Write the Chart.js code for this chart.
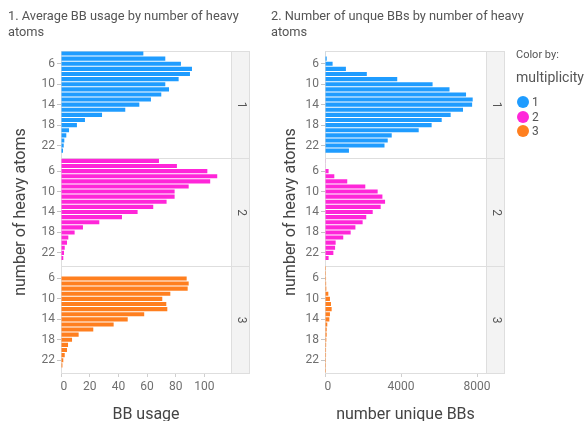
<!DOCTYPE html>
<html>
<head>
<meta charset="utf-8">
<script src="https://cdn.jsdelivr.net/npm/chart.js@4.4.0/dist/chart.umd.min.js"></script>
<style>
  html, body { margin: 0; padding: 0; background: #fff; width: 588px; height: 421px; overflow: hidden; }
  body { font-family: Roboto, "Liberation Sans", sans-serif; }
  #wrap { position: relative; width: 588px; height: 421px; }
  canvas { position: absolute; top: 0; }
  #usageChart { left: 0; }
  #uniqueChart { left: 262px; }
  .title { position: absolute; font-size: 12.8px; line-height: 15.5px; color: #555; white-space: nowrap; }
  .legend-head { position: absolute; left: 516px; color: #555; white-space: nowrap; }
  .legend-item { position: absolute; left: 517px; height: 14px; line-height: 14px; font-size: 12px; color: #555; }
  .legend-item span.dot { position: absolute; left: 0; top: 1px; width: 12px; height: 12px; border-radius: 50%; }
  .legend-item span.lab { position: absolute; left: 15px; top: 0; }
</style>
</head>
<body>
<div id="wrap">
  <canvas id="usageChart" width="262" height="421"></canvas>
  <canvas id="uniqueChart" width="326" height="421"></canvas>
  <div class="title" style="left:8px; top:8px;">1. Average BB usage by number of heavy<br>atoms</div>
  <div class="title" style="left:271px; top:8px;">2. Number of unque BBs by number of heavy<br>atoms</div>
  <div class="legend-head" style="top:48px; font-size:11px; line-height:14px;">Color by:</div>
  <div class="legend-head" style="top:68px; font-size:14px; line-height:18px;">multiplicity</div>
  <div id="legend"></div>
</div>
<script>
// number of heavy atoms (one bar per value, per multiplicity row)
const atoms = [4, 5, 6, 7, 8, 9, 10, 11, 12, 13, 14, 15, 16, 17, 18, 19, 20, 21, 22, 23, 24];
const atomTickLabels = [6, 10, 14, 18, 22];
const multiplicity = ['1', '2', '3'];
const palette = ['#1f9cff', '#ff26d9', '#ff7f1f'];

// 1. average building-block usage
const usageMult1 = [57.4, 72.7, 83.6, 91.3, 89.9, 82.0, 72.7, 75.3, 69.9, 62.7, 54.6, 44.8, 28.6, 16.7, 11.1, 5.6, 3.7, 2.3, 1.9, 1.4, 0];
const usageMult2 = [68.3, 80.8, 102.0, 108.9, 104.0, 89.0, 79.2, 79.2, 73.6, 64.3, 53.4, 42.5, 26.7, 15.3, 9.5, 5.1, 4.2, 2.6, 2.1, 1.6, 0];
const usageMult3 = [0, 0, 87.6, 89.0, 88.3, 76.2, 70.6, 73.4, 74.1, 58.0, 46.5, 36.7, 22.5, 12.3, 7.7, 4.9, 4.2, 2.6, 1.6, 1.0, 0];

// 2. number of unique building blocks
const uniqueMult1 = [30, 90, 400, 1100, 2200, 3800, 5660, 6550, 7420, 7770, 7740, 7260, 6610, 6140, 5610, 4930, 3510, 3300, 3130, 1260, 0];
const uniqueMult2 = [20, 30, 190, 490, 1170, 2120, 2770, 3020, 3160, 2930, 2510, 2170, 1980, 1600, 1350, 960, 560, 530, 440, 190, 0];
const uniqueMult3 = [50, 50, 55, 60, 70, 175, 260, 315, 350, 260, 230, 120, 90, 88, 70, 60, 55, 55, 50, 50, 50];

const usageTicks = [0, 20, 40, 60, 80, 100];
const uniqueTicks = [0, 4000, 8000];

const FONT = 'Roboto, "Liberation Sans", sans-serif';
const rowIds = ['y1', 'y2', 'y3'];

// frames around each facet cell, the grey row strips and the y title
const facetDecor = {
  id: 'facetDecor',
  beforeDatasetsDraw(chart, args, o) {
    const ctx = chart.ctx;
    const area = chart.chartArea;
    const L = Math.round(area.left) + 0.5;
    const R = Math.round(area.right) + 0.5;
    ctx.save();
    ctx.lineWidth = 1;
    rowIds.forEach((id, i) => {
      const s = chart.scales[id];
      const T = Math.round(s.top) + 0.5;
      const B = Math.round(s.bottom) + 0.5;
      ctx.fillStyle = '#f3f3f3';
      ctx.fillRect(R, T, o.stripWidth, B - T);
      ctx.strokeStyle = '#dedede';
      ctx.strokeRect(L, T, R - L, B - T);
      ctx.strokeRect(R, T, o.stripWidth, B - T);
      ctx.save();
      ctx.translate(R + o.stripWidth / 2, (T + B) / 2);
      ctx.rotate(Math.PI / 2);
      ctx.fillStyle = '#555';
      ctx.font = '12px ' + FONT;
      ctx.textAlign = 'center';
      ctx.textBaseline = 'middle';
      ctx.fillText(multiplicity[i], 0, 0);
      ctx.restore();
    });
    ctx.save();
    ctx.translate(o.yTitleX, (area.top + area.bottom) / 2);
    ctx.rotate(-Math.PI / 2);
    ctx.fillStyle = '#444';
    ctx.font = '16px ' + FONT;
    ctx.textAlign = 'center';
    ctx.textBaseline = 'middle';
    ctx.fillText(o.yTitle, 0, 0);
    ctx.restore();
    ctx.restore();
  }
};

function makePanel(cfg) {
  const scales = {};
  rowIds.forEach((id, i) => {
    scales[id] = {
      type: 'category',
      labels: atoms.map(String),
      position: 'left',
      stack: 'rows',
      stackWeight: 1,
      weight: 3 - i,
      offset: true,
      afterFit: s => { s.width = cfg.axisWidth; },
      border: { display: false },
      grid: {
        drawOnChartArea: false,
        drawTicks: true,
        offset: false,
        tickLength: 4,
        tickColor: c => atomTickLabels.includes(atoms[c.index]) ? '#c4c4c4' : 'rgba(0,0,0,0)'
      },
      ticks: {
        autoSkip: false,
        padding: 2,
        color: '#6f6f6f',
        font: { family: FONT, size: 12 },
        callback: (v, idx) => atomTickLabels.includes(atoms[idx]) ? String(atoms[idx]) : ''
      }
    };
  });
  scales.x = {
    type: 'linear',
    position: 'bottom',
    min: 0,
    max: cfg.xMax,
    afterBuildTicks: s => { s.ticks = cfg.xTicks.map(v => ({ value: v })); },
    afterFit: s => { s.height = 48; },
    border: { display: false },
    grid: { drawOnChartArea: false, drawTicks: true, tickLength: 4, tickColor: '#cfcfcf' },
    ticks: {
      autoSkip: false,
      maxRotation: 0,
      padding: 3,
      color: '#6f6f6f',
      font: { family: FONT, size: 12 },
      // first label sits flush with the start of the axis
      callback: (v, i) => i === 0 ? '  ' + String(v) : String(v)
    },
    title: {
      display: true,
      text: cfg.xTitle,
      color: '#444',
      font: { family: FONT, size: 16, lineHeight: 1 },
      padding: { top: 0, bottom: -2 }
    }
  };

  return new Chart(document.getElementById(cfg.canvas), {
    type: 'bar',
    data: {
      labels: atoms.map(String),
      datasets: cfg.series.map((vals, i) => ({
        label: multiplicity[i],
        data: vals,
        yAxisID: rowIds[i],
        xAxisID: 'x',
        backgroundColor: palette[i],
        borderWidth: 0,
        grouped: false,
        barPercentage: 0.8,
        categoryPercentage: 1
      }))
    },
    options: {
      indexAxis: 'y',
      responsive: false,
      animation: false,
      layout: { padding: { left: 0, top: 51, right: cfg.padRight, bottom: 0 } },
      scales,
      plugins: {
        legend: { display: false },
        tooltip: { enabled: false },
        facetDecor: { stripWidth: 18, yTitle: 'number of heavy atoms', yTitleX: cfg.yTitleX }
      }
    },
    plugins: [facetDecor]
  });
}

makePanel({
  canvas: 'usageChart',
  series: [usageMult1, usageMult2, usageMult3],
  xMax: 118.5,
  xTicks: usageTicks,
  xTitle: 'BB usage',
  axisWidth: 61,
  padRight: 31,
  yTitleX: 21
});

makePanel({
  canvas: 'uniqueChart',
  series: [uniqueMult1, uniqueMult2, uniqueMult3],
  xMax: 8470,
  xTicks: uniqueTicks,
  xTitle: 'number unique BBs',
  axisWidth: 63,
  padRight: 102,
  yTitleX: 29
});

// colour legend
const legendBox = document.getElementById('legend');
const legendY = [102, 116.5, 131];
multiplicity.forEach((m, i) => {
  const item = document.createElement('div');
  item.className = 'legend-item';
  item.style.top = (legendY[i] - 7) + 'px';
  item.innerHTML = '<span class="dot" style="background:' + palette[i] + '"></span><span class="lab">' + m + '</span>';
  legendBox.appendChild(item);
});
</script>
</body>
</html>
